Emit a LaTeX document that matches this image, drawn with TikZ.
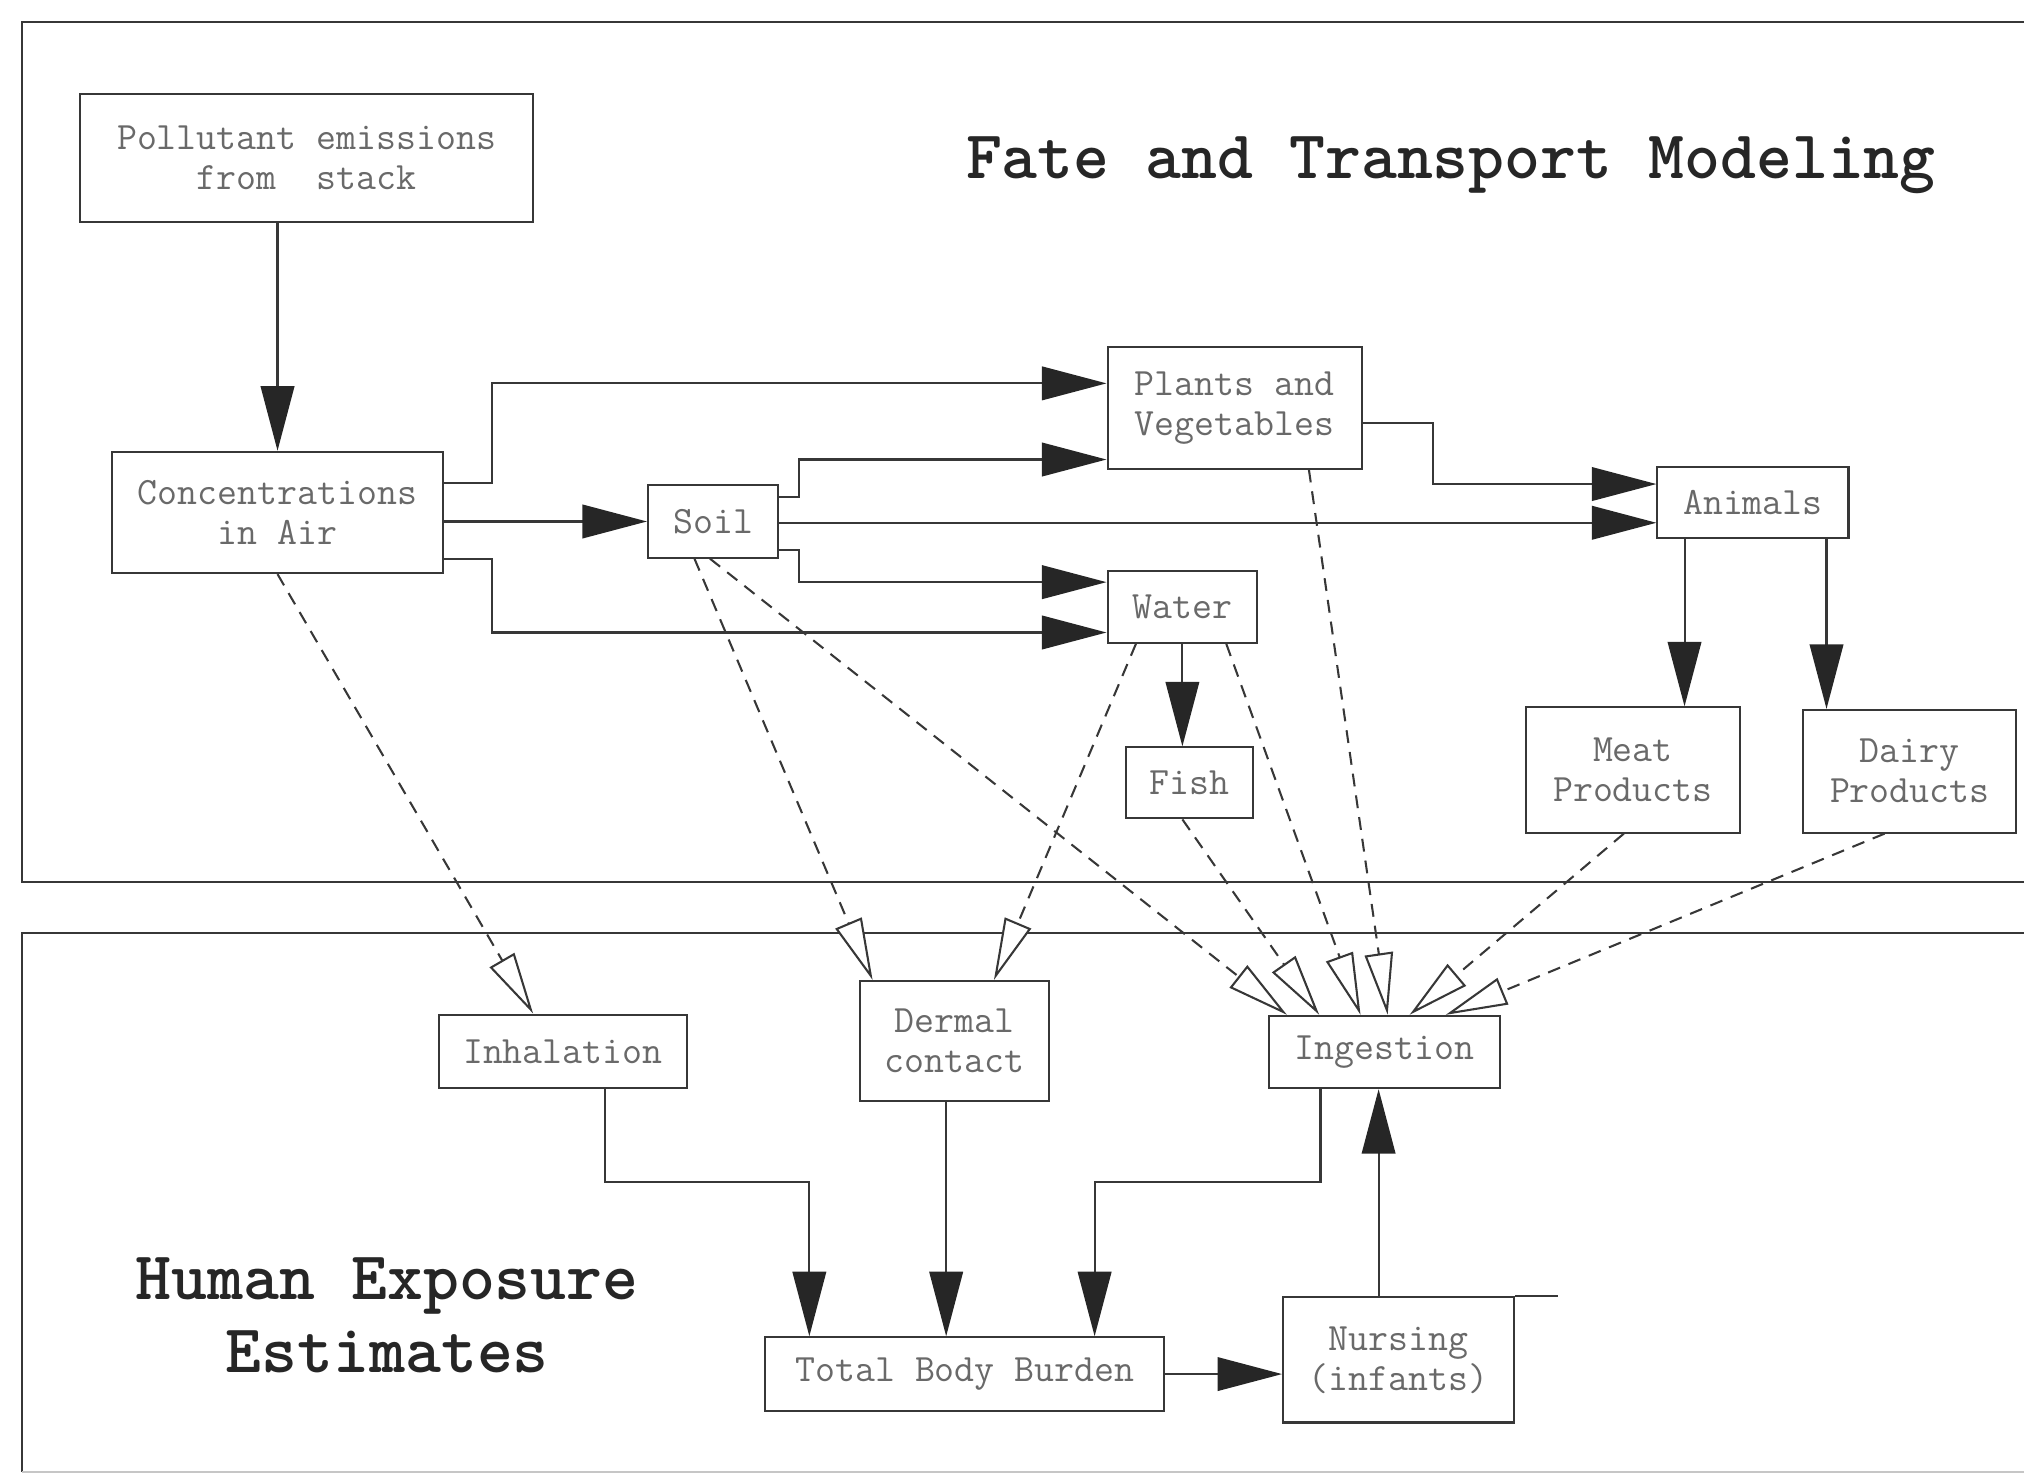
\documentclass[tikz,border=0pt]{standalone}
\usetikzlibrary{arrows.meta}
\definecolor{inkgray}{RGB}{55,55,55}
\definecolor{textgray}{RGB}{105,105,105}
\begin{document}
\begin{tikzpicture}[x=0.5pt, y=-0.5pt,
  box/.style={draw=inkgray, line width=0.8pt, inner sep=0pt, align=center, text=textgray,
    font=\fontsize{15}{15.5}\selectfont\ttfamily},
  flow/.style={draw=inkgray, line width=0.8pt, -{Triangle[length=25pt, width=13pt, color=black!85]}},
  expo/.style={draw=inkgray, line width=0.8pt, dash pattern=on 5pt off 3.5pt,
    -{Triangle[length=24pt, width=11pt, fill=white]}},
  frame/.style={draw=inkgray, line width=0.8pt},
  heading/.style={font=\fontsize{26.5}{28}\selectfont\ttfamily\bfseries, text=black!85, inner sep=0pt, align=center}
]
\useasboundingbox (0,0) rectangle (1568,1143);

% draw the two panels
\draw[frame] (1568,17) -- (17,17) -- (17,683) -- (1568,683);
\draw[frame] (1568,723) -- (17,723) -- (17,1140);
\draw[frame, draw=gray!45] (17,1140) -- (1568,1140);

% panel titles
\node[heading, anchor=base] (fatetitle) at (1124,138) {Fate and Transport Modeling};
\node[heading] (exptitle) at (300,1019) {Human Exposure\\Estimates};

% fate and transport boxes
\node[box, minimum width=175.5pt, minimum height=49.5pt] (poll) at (237.5,122.5) {Pollutant emissions\\from~~stack};
\node[box, minimum width=128pt, minimum height=47pt] (conc) at (215,397) {Concentrations\\in Air};
\node[box, minimum width=50.5pt, minimum height=28pt] (soil) at (552.5,404) {Soil};
\node[box, minimum width=98.5pt, minimum height=47pt] (plants) at (956.5,316) {Plants and\\Vegetables};
\node[box, minimum width=58pt, minimum height=28pt] (water) at (916,470) {Water};
\node[box, minimum width=49.5pt, minimum height=27.5pt] (fish) at (921.5,606.5) {Fish};
\node[box, minimum width=74pt, minimum height=27.5pt] (animals) at (1358,389.5) {Animals};
\node[box, minimum width=83pt, minimum height=48.5pt] (meat) at (1265,596.5) {Meat\\Products};
\node[box, minimum width=82.5pt, minimum height=47.5pt] (dairy) at (1479.5,597.5) {Dairy\\Products};

% exposure boxes
\node[box, minimum width=96pt, minimum height=28.5pt] (inhal) at (436,814.5) {Inhalation};
\node[box, minimum width=73.5pt, minimum height=46.5pt] (dermal) at (739.5,806.5) {Dermal\\contact};
\node[box, minimum width=89.5pt, minimum height=28pt] (ingest) at (1072.5,815) {Ingestion};
\node[box, minimum width=154.5pt, minimum height=28.5pt] (tbb) at (747.5,1064.5) {Total Body Burden};
\node[box, minimum width=89.5pt, minimum height=48.5pt] (nurs) at (1083.5,1053.5) {Nursing\\(infants)};
\draw[frame] (nurs.north east) -- ++(33,0);

% transport between media
\draw[flow] (poll.south -| conc.north) -- (conc.north);
\draw[flow] (conc.east |- 0,374) -- (381,374) |- (plants.west |- 0,297);
\draw[flow] (conc.east |- soil.west) -- (soil.west);
\draw[flow] (conc.east |- 0,433) -- (381,433) |- (water.west |- 0,490);
\draw[flow] (soil.east |- 0,385) -- (619,385) |- (plants.west |- 0,356);
\draw[flow] (soil.east |- 0,405) -- (animals.west |- 0,405);
\draw[flow] (soil.east |- 0,426) -- (619,426) |- (water.west |- 0,451);
\draw[flow] (plants.east |- 0,328) -- (1110,328) |- (animals.west |- 0,375);
\draw[flow] (water.south) -- (fish.north -| water.south);
\draw[flow] (animals.south -| 1305,0) -- (meat.north -| 1305,0);
\draw[flow] (animals.south -| 1415,0) -- (dairy.north -| 1415,0);

% exposure pathways
\draw[expo] (conc.south) -- (inhal.north -| 413,0);
\draw[expo] (soil.south -| 538,0) -- (dermal.north -| 676,0);
\draw[expo] (water.south -| 880,0) -- (dermal.north -| 770,0);
\draw[expo] (soil.south -| 550,0) -- (ingest.north -| 997,0);
\draw[expo] (fish.south -| 916,0) -- (ingest.north -| 1022,0);
\draw[expo] (water.south -| 950,0) -- (ingest.north -| 1054,0);
\draw[expo] (plants.south -| 1014,0) -- (ingest.north -| 1075,0);
\draw[expo] (meat.south -| 1258,0) -- (ingest.north -| 1092,0);
\draw[expo] (dairy.south -| 1460,0) -- (ingest.north -| 1120,0);

% uptake into the body
\draw[flow] (inhal.south -| 469,0) -- (469,916) -| (tbb.north -| 627,0);
\draw[flow] (dermal.south -| 733,0) -- (tbb.north -| 733,0);
\draw[flow] (ingest.south -| 1023,0) -- (1023,916) -| (tbb.north -| 848,0);
\draw[flow] (tbb.east) -- (nurs.west |- tbb.east);
\draw[flow] (nurs.north -| 1068,0) -- (ingest.south -| 1068,0);

\end{tikzpicture}
\end{document}
